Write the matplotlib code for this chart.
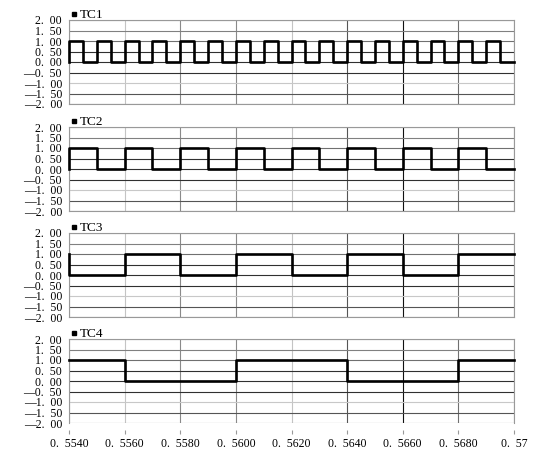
import matplotlib
matplotlib.use("Agg")
import numpy as np
from matplotlib import pyplot as plt

# common time base, 0.5 ms steps
time = [0.5540, 0.5545, 0.5550, 0.5555, 0.5560, 0.5565, 0.5570, 0.5575,
        0.5580, 0.5585, 0.5590, 0.5595, 0.5600, 0.5605, 0.5610, 0.5615,
        0.5620, 0.5625, 0.5630, 0.5635, 0.5640, 0.5645, 0.5650, 0.5655,
        0.5660, 0.5665, 0.5670, 0.5675, 0.5680, 0.5685, 0.5690, 0.5695,
        0.5700]

channels = ["TC1", "TC2", "TC3", "TC4"]
# level just before the window starts
start_levels = [0, 0, 1, 1]
# level held on each 0.5 ms segment
tc1 = [1, 0, 1, 0, 1, 0, 1, 0, 1, 0, 1, 0, 1, 0, 1, 0,
       1, 0, 1, 0, 1, 0, 1, 0, 1, 0, 1, 0, 1, 0, 1, 0]
tc2 = [1, 1, 0, 0, 1, 1, 0, 0, 1, 1, 0, 0, 1, 1, 0, 0,
       1, 1, 0, 0, 1, 1, 0, 0, 1, 1, 0, 0, 1, 1, 0, 0]
tc3 = [0, 0, 0, 0, 1, 1, 1, 1, 0, 0, 0, 0, 1, 1, 1, 1,
       0, 0, 0, 0, 1, 1, 1, 1, 0, 0, 0, 0, 1, 1, 1, 1]
tc4 = [1, 1, 1, 1, 0, 0, 0, 0, 0, 0, 0, 0, 1, 1, 1, 1,
       1, 1, 1, 1, 0, 0, 0, 0, 0, 0, 0, 0, 1, 1, 1, 1]
signals = [tc1, tc2, tc3, tc4]

# en space after the point mimics the wide CJK-style spacing of the original
x_ticks = [0.554, 0.556, 0.558, 0.560, 0.562, 0.564, 0.566, 0.568, 0.570]
x_labels = ["0.\u20025540", "0.\u20025560", "0.\u20025580", "0.\u20025600",
            "0.\u20025620", "0.\u20025640", "0.\u20025660", "0.\u20025680",
            "0.\u200257"]
y_ticks = [2.0, 1.5, 1.0, 0.5, 0.0, -0.5, -1.0, -1.5, -2.0]
y_labels = ["2.\u200200", "1.\u200250", "1.\u200200", "0.\u200250",
            "0.\u200200", "\u20140.\u200250", "\u20141.\u200200",
            "\u20141.\u200250", "\u20142.\u200200"]

W, H = 542, 457
plt.rcParams['font.family'] = ['Liberation Serif', 'DejaVu Serif']
fig = plt.figure(figsize=(W / 100, H / 100), dpi=100)

panel_tops = [20, 127, 233, 339]
left, width, height = 69, 445, 84

# the shading of grid lines in the original export varies a bit
vgrid_colors = ["#909090", "#c4c4c4", "#8a8a8a", "#8a8a8a", "#c4c4c4",
                "#555555", "#111111", "#707070", "#909090"]
hgrid_colors = ["#909090", "#808080", "#707070", "#303030", "#303030",
                "#303030", "#c8c8c8", "#555555", "#707070"]

for i, (name, levels) in enumerate(zip(channels, signals)):
    top = panel_tops[i]
    ax = fig.add_axes([left / W, 1 - (top + height) / H, width / W, height / H])
    ax.set_xlim(x_ticks[0], x_ticks[-1])
    ax.set_ylim(-2, 2)

    for xv, c in zip(x_ticks, vgrid_colors):
        ax.axvline(xv, color=c, lw=0.8, zorder=1)
    for yv, c in zip(y_ticks, hgrid_colors):
        ax.axhline(yv, color=c, lw=0.8, zorder=1)

    xs = [time[0]]
    ys = [start_levels[i]]
    for t, v in zip(time[:-1], levels):
        xs += [t]
        ys += [v]
    xs += [time[-1]]
    ys += [levels[-1]]
    ax.plot(xs, ys, drawstyle='steps-post', color='black', lw=1.9,
            zorder=3, clip_on=False)

    ax.set_yticks(y_ticks)
    ax.set_yticklabels(y_labels)
    ax.tick_params(axis='y', length=0, pad=5, labelsize=8.5)
    for s in ['top', 'right', 'left']:
        ax.spines[s].set_color('#999999')
        ax.spines[s].set_linewidth(0.8)

    if i < 3:
        ax.set_xticks([])
        ax.spines['bottom'].set_color('#999999')
        ax.spines['bottom'].set_linewidth(0.8)
    else:
        ax.spines['bottom'].set_position(('outward', 5))
        ax.spines['bottom'].set_color('none')
        ax.set_xticks(x_ticks)
        ax.set_xticklabels(x_labels)
        ax.tick_params(axis='x', length=3, width=0.8, color='#999999',
                       pad=3, labelsize=8.5)

    # small legend above each panel
    ax.plot([4.5 / width], [1 + 6.5 / height], marker='s', ms=3.2,
            color='black', transform=ax.transAxes, clip_on=False)
    ax.text(10.5 / width, 1 + 2 / height, name, transform=ax.transAxes,
            fontsize=9.5, va='baseline', ha='left')
    ax.plot([10.5 / width, 21 / width], [1 + 0.3 / height, 1 + 0.3 / height],
            color='#555555', lw=0.7, transform=ax.transAxes, clip_on=False)

fig.savefig("out.png", dpi=100)
